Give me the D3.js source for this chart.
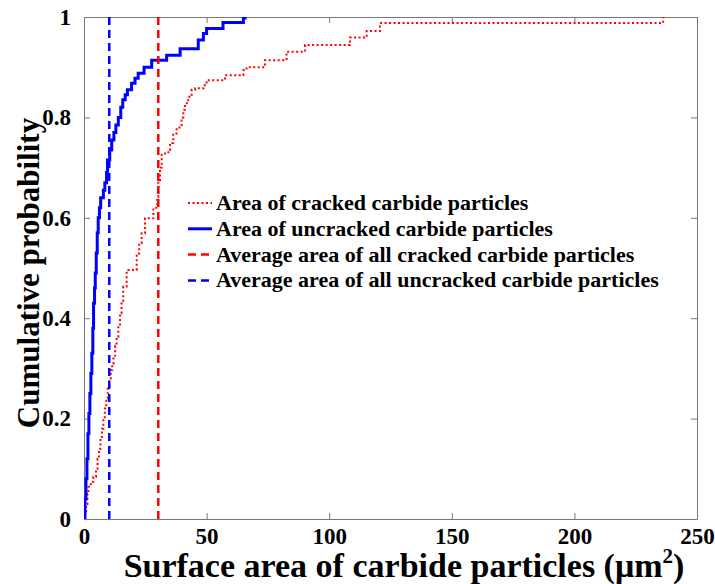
<!DOCTYPE html>
<html>
<head>
<meta charset="utf-8">
<script src="https://cdn.jsdelivr.net/npm/d3@7"></script>
<style>
  html, body { margin: 0; padding: 0; background: #fff; }
  svg { display: block; }
</style>
</head>
<body>
<svg id="chart" width="715" height="584"></svg>
<script>
// Empirical CDFs of carbide particle surface area (step points: area, cumulative probability)
const uncrackedArea = [0, 0.4, 0.8, 1.2, 1.6, 2.0, 2.4, 2.8, 3.2, 3.6, 3.9, 4.3, 4.6, 5.0, 5.4, 5.8, 6.3, 6.8, 7.9, 8.5, 9.2, 9.6, 10.5, 11.3, 12.2, 13.0, 14.0, 15.0, 15.8, 16.8, 17.7, 19.4, 20.8, 22.1, 24.5, 27.6, 33.7, 39.2, 46.6, 48.7, 50.0, 56.7, 65.0, 65.7];
const uncrackedProb = [0, 0.04, 0.08, 0.12, 0.17, 0.21, 0.25, 0.29, 0.33, 0.38, 0.43, 0.46, 0.49, 0.53, 0.57, 0.60, 0.62, 0.64, 0.655, 0.67, 0.69, 0.715, 0.735, 0.755, 0.77, 0.785, 0.80, 0.82, 0.835, 0.845, 0.855, 0.868, 0.878, 0.888, 0.90, 0.914, 0.924, 0.937, 0.954, 0.967, 0.977, 0.989, 0.998, 1.0];

const crackedArea = [0, 0.4, 0.9, 1.4, 1.8, 2.8, 3.8, 4.9, 5.5, 6.1, 6.7, 7.3, 7.9, 8.5, 9.1, 9.7, 10.3, 10.9, 11.5, 12.0, 12.7, 13.3, 14.0, 14.7, 15.3, 16.0, 17.4, 21.5, 22.5, 23.5, 24.9, 28.3, 29.9, 30.3, 31.0, 31.7, 34.4, 35.1, 36.4, 37.8, 39.8, 40.5, 41.2, 42.5, 43.9, 45.3, 48.7, 50.0, 57.5, 65.0, 66.3, 73.8, 82.6, 90.1, 108.5, 115.3, 120.7, 236.2];
const crackedProb = [0, 0.01, 0.03, 0.05, 0.064, 0.074, 0.084, 0.10, 0.12, 0.14, 0.16, 0.18, 0.20, 0.22, 0.24, 0.26, 0.28, 0.297, 0.31, 0.325, 0.345, 0.363, 0.385, 0.41, 0.435, 0.463, 0.496, 0.529, 0.55, 0.569, 0.599, 0.62, 0.642, 0.675, 0.70, 0.728, 0.735, 0.749, 0.768, 0.78, 0.80, 0.815, 0.828, 0.841, 0.855, 0.858, 0.864, 0.874, 0.884, 0.894, 0.90, 0.914, 0.931, 0.944, 0.959, 0.972, 0.988, 1.0];

// Average areas (vertical reference lines)
const avgCracked = 30.3;
const avgUncracked = 10.3;

const xTicks = [0, 50, 100, 150, 200, 250];
const yTicks = [0, 0.2, 0.4, 0.6, 0.8, 1];
const yTickLabels = ["0", "0.2", "0.4", "0.6", "0.8", "1"];

const legendLabels = [
  "Area of cracked carbide particles",
  "Area of uncracked carbide particles",
  "Average area of all cracked carbide particles",
  "Average area of all uncracked carbide particles",
];

const RED = "#ff0000";
const BLUE = "#0000ff";
const FONT = "'Liberation Serif', 'DejaVu Serif', 'Times New Roman', serif";

const svg = d3.select("#chart");
const margin = { left: 84, right: 18, top: 17, bottom: 65 };
const W = 715, H = 584;
const iw = W - margin.left - margin.right;
const ih = H - margin.top - margin.bottom;

const x = d3.scaleLinear().domain([0, 250]).range([0, iw]);
const y = d3.scaleLinear().domain([0, 1]).range([ih, 0]);

const g = svg.append("g").attr("transform", `translate(${margin.left},${margin.top})`);

g.append("defs").append("clipPath").attr("id", "clip")
  .append("rect").attr("width", iw).attr("height", ih);

// Box with inward ticks on all sides
function styleAxis(sel, showLabels) {
  sel.select(".domain").attr("stroke", "#777").attr("stroke-width", 1);
  sel.selectAll(".tick line").attr("stroke", "#777");
  sel.selectAll(".tick text")
    .style("display", showLabels ? null : "none")
    .style("font-family", FONT)
    .style("font-weight", "bold")
    .style("font-size", "23px")
    .attr("fill", "#000");
}

g.append("g").attr("transform", `translate(0,${ih})`)
  .call(d3.axisBottom(x).tickValues(xTicks).tickSize(-6).tickPadding(9).tickSizeOuter(0))
  .call((s) => styleAxis(s, true));

g.append("g")
  .call(d3.axisTop(x).tickValues(xTicks).tickSize(-6).tickSizeOuter(0))
  .call((s) => styleAxis(s, false));

g.append("g")
  .call(d3.axisLeft(y).tickValues(yTicks).tickSize(-6).tickPadding(13).tickSizeOuter(0)
    .tickFormat((d, i) => yTickLabels[i]))
  .call((s) => styleAxis(s, true));

g.append("g").attr("transform", `translate(${iw},0)`)
  .call(d3.axisRight(y).tickValues(yTicks).tickSize(-6).tickSizeOuter(0))
  .call((s) => styleAxis(s, false));

// Curves
const stairs = d3.line()
  .x((d) => x(d[0]))
  .y((d) => y(d[1]))
  .curve(d3.curveStepAfter);

const plot = g.append("g").attr("clip-path", "url(#clip)");

plot.append("path")
  .datum(crackedArea.map((a, i) => [a, crackedProb[i]]))
  .attr("d", stairs)
  .attr("fill", "none")
  .attr("stroke", RED)
  .attr("stroke-width", 2)
  .attr("stroke-dasharray", "2,2.5");

plot.append("path")
  .datum(uncrackedArea.map((a, i) => [a, uncrackedProb[i]]))
  .attr("d", stairs)
  .attr("fill", "none")
  .attr("stroke", BLUE)
  .attr("stroke-width", 3);

[[avgCracked, RED], [avgUncracked, BLUE]].forEach(([v, c]) => {
  plot.append("line")
    .attr("x1", x(v)).attr("x2", x(v))
    .attr("y1", y(0)).attr("y2", y(1))
    .attr("stroke", c)
    .attr("stroke-width", 2.5)
    .attr("stroke-dasharray", "8,5");
});

// Legend
const legendStyles = [
  { color: RED, width: 2, dash: "2,2.5" },
  { color: BLUE, width: 3, dash: null },
  { color: RED, width: 2.5, dash: "8,5" },
  { color: BLUE, width: 2.5, dash: "8,5" },
];
const legend = svg.append("g").attr("transform", "translate(188,203)");
legendLabels.forEach((label, i) => {
  const row = legend.append("g").attr("transform", `translate(0,${i * 25.8})`);
  const st = legendStyles[i];
  row.append("line")
    .attr("x1", 0).attr("x2", 24).attr("y1", 0).attr("y2", 0)
    .attr("stroke", st.color)
    .attr("stroke-width", st.width)
    .attr("stroke-dasharray", st.dash);
  row.append("text")
    .attr("x", 28).attr("y", 7)
    .style("font-family", FONT)
    .style("font-weight", "bold")
    .style("font-size", "22px")
    .text(label);
});

// Axis titles
svg.append("text")
  .attr("transform", `translate(39,273) rotate(-90)`)
  .attr("text-anchor", "middle")
  .style("font-family", FONT)
  .style("font-weight", "bold")
  .style("font-size", "31px")
  .text("Cumulative probability");

const xt = svg.append("text")
  .attr("x", 404)
  .attr("y", 577)
  .attr("text-anchor", "middle")
  .style("font-family", FONT)
  .style("font-weight", "bold")
  .style("font-size", "34px");
xt.append("tspan").text("Surface area of carbide particles (μm");
xt.append("tspan").attr("dy", -14).style("font-size", "21px").text("2");
xt.append("tspan").attr("dy", 14).text(")");
</script>
</body>
</html>
